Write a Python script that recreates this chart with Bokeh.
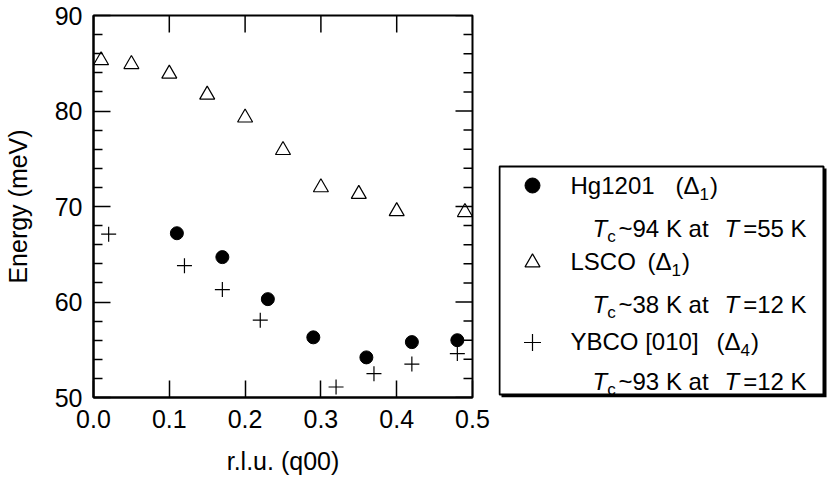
import math
from bokeh.plotting import figure
from bokeh.models import Range1d, LinearAxis, FixedTicker, ColumnDataSource
from bokeh.layouts import row
from bokeh.embed import file_html
from bokeh.resources import INLINE
from bokeh.core.properties import value

# ---------------- data ----------------
hg_q = [0.11, 0.17, 0.23, 0.29, 0.36, 0.42, 0.48]
hg_e = [67.2, 64.7, 60.3, 56.3, 54.2, 55.8, 56.0]

lsco_q = [0.01, 0.05, 0.10, 0.15, 0.20, 0.25, 0.30, 0.35, 0.40, 0.49]
lsco_e = [85.3, 84.9, 83.9, 81.7, 79.3, 75.9, 72.0, 71.3, 69.5, 69.4]

ybco_q = [0.02, 0.12, 0.17, 0.22, 0.32, 0.37, 0.42, 0.48]
ybco_e = [67.1, 63.8, 61.3, 58.1, 51.1, 52.5, 53.5, 54.6]

x_ticks = [0.0, 0.1, 0.2, 0.3, 0.4, 0.5]
x_tick_labels = ["0.0", "0.1", "0.2", "0.3", "0.4", "0.5"]
y_ticks = [50, 60, 70, 80, 90]
y_tick_labels = ["50", "60", "70", "80", "90"]
y_minor_ticks = [52, 54, 56, 58, 62, 64, 66, 68, 72, 74, 76, 78, 82, 84, 86, 88]

legend_names = ["Hg1201", "LSCO", "YBCO [010]"]
legend_deltas = ["1", "1", "4"]
legend_tc = ["~94 K at", "~38 K at", "~93 K at"]
legend_t = ["=55 K", "=12 K", "=12 K"]

FONT = "Liberation Sans"
H = 483
TOP, BOTTOM = 15, 86

# ---------------- main plot ----------------
p = figure(width=490, height=H, x_range=Range1d(0, 0.5), y_range=Range1d(50, 90),
           x_axis_type=None, y_axis_type=None,
           min_border_left=90, min_border_right=18, min_border_top=TOP, min_border_bottom=BOTTOM,
           output_backend="svg", toolbar_location=None)
p.outline_line_color = "black"
p.outline_line_width = 2
p.background_fill_color = "white"
p.border_fill_color = "white"

xt = FixedTicker(ticks=x_ticks, minor_ticks=[])
yt = FixedTicker(ticks=y_ticks, minor_ticks=y_minor_ticks)


def style_axis(ax):
    ax.axis_line_color = "black"
    ax.axis_line_width = 2
    ax.major_tick_in = 17
    ax.major_tick_out = 0
    ax.major_tick_line_width = 1.5
    ax.major_tick_line_color = "black"
    ax.minor_tick_in = 9
    ax.minor_tick_out = 0
    ax.minor_tick_line_width = 1.5
    ax.minor_tick_line_color = "black"
    ax.major_label_text_font = FONT
    ax.major_label_text_color = "black"
    ax.major_label_text_font_size = "25px"
    ax.axis_label_text_font = FONT
    ax.axis_label_text_font_size = "25px"
    ax.axis_label_text_font_style = "normal"
    ax.axis_label_text_color = "black"


xb = LinearAxis(ticker=xt, axis_label="r.l.u. (q00)",
                major_label_overrides=dict(zip(x_ticks, x_tick_labels)))
style_axis(xb)
xb.major_label_standoff = 12
xb.axis_label_standoff = 16
p.add_layout(xb, "below")

yl = LinearAxis(ticker=yt, axis_label="Energy (meV)",
                major_label_overrides=dict(zip(y_ticks, y_tick_labels)))
style_axis(yl)
yl.major_label_standoff = 11
yl.axis_label_standoff = 20
p.add_layout(yl, "left")

# inward ticks on the top and right frame edges
p.ray(x=x_ticks, y=[y_ticks[-1]] * len(x_ticks), length=17, length_units="screen",
      angle=-math.pi / 2, line_color="black", line_width=1.5)
p.ray(x=[x_ticks[-1]] * len(y_ticks), y=y_ticks, length=17, length_units="screen",
      angle=math.pi, line_color="black", line_width=1.5)
p.ray(x=[x_ticks[-1]] * len(y_minor_ticks), y=y_minor_ticks, length=9, length_units="screen",
      angle=math.pi, line_color="black", line_width=1.5)

p.scatter(lsco_q, lsco_e, marker="triangle", size=15, fill_color=None,
          line_color="black", line_width=1.2)
p.scatter(hg_q, hg_e, marker="circle", size=13, fill_color="black", line_color="black")
p.scatter(ybco_q, ybco_e, marker="cross", size=15, line_color="black", line_width=1.2)

# ---------------- legend panel ----------------
LEG_W = 338
LW, LH = LEG_W - 8, H - TOP - BOTTOM
BT = 150          # box top inside the panel frame
BR = 325          # box right inside the panel frame
lg = figure(width=LEG_W, height=H, x_range=Range1d(0, LW), y_range=Range1d(LH, 0),
            x_axis_type=None, y_axis_type=None,
            min_border_left=8, min_border_right=0, min_border_top=TOP, min_border_bottom=BOTTOM,
            output_backend="svg", toolbar_location=None)
lg.outline_line_color = None
lg.background_fill_color = "white"
lg.border_fill_color = "white"

# shadow + box
lg.quad(left=[3], right=[BR + 3], top=[BT + 3], bottom=[LH], fill_color="black", line_color=None)
lg.quad(left=[1], right=[BR], top=[BT + 1], bottom=[LH - 3], fill_color="white",
        line_color="black", line_width=2)

# markers
mx = 34
lg.scatter([mx], [BT + 20], marker="circle", size=15, fill_color="black", line_color="black")
lg.scatter([mx], [BT + 97], marker="triangle", size=15, fill_color=None, line_color="black",
           line_width=1.2)
lg.scatter([mx], [BT + 177], marker="cross", size=17, line_color="black", line_width=1.2)

# text layout (pixel offsets within the legend box, vertical = text middle)
name_x = 72
name_y = [20, 96, 176]
tline_y = [63, 139, 216]
paren_x = [177, 149, 218]
FS = 24
SFS = 17
W_PD = (0.333 + 0.668) * FS   # width of "(Δ"
W_SUB = 0.556 * SFS
W_T = 0.611 * FS
SUB_DY = 8

norm = dict(x=[], y=[], t=[])
ital = dict(x=[], y=[], t=[])
subs = dict(x=[], y=[], t=[])

for i in range(3):
    yb = BT + name_y[i]
    norm["x"] += [name_x, paren_x[i], paren_x[i] + W_PD + W_SUB + 1]
    norm["y"] += [yb, yb, yb]
    norm["t"] += [legend_names[i], "(\u0394", ")"]
    subs["x"].append(paren_x[i] + W_PD)
    subs["y"].append(yb + SUB_DY)
    subs["t"].append(legend_deltas[i])

    ty = BT + tline_y[i]
    ital["x"] += [94, 226]
    ital["y"] += [ty, ty]
    ital["t"] += ["T", "T"]
    subs["x"].append(94 + W_T)
    subs["y"].append(ty + SUB_DY)
    subs["t"].append("c")
    norm["x"] += [120, 226 + W_T + 4]
    norm["y"] += [ty, ty]
    norm["t"] += [legend_tc[i], legend_t[i]]

lg.text(x="x", y="y", text="t", source=ColumnDataSource(norm), text_font=value(FONT),
        text_font_size=value("24px"), text_baseline="middle", text_align="left",
        text_color="black")
lg.text(x="x", y="y", text="t", source=ColumnDataSource(ital), text_font=value(FONT),
        text_font_size=value("24px"), text_font_style="italic", text_baseline="middle",
        text_align="left", text_color="black")
lg.text(x="x", y="y", text="t", source=ColumnDataSource(subs), text_font=value(FONT),
        text_font_size=value("17px"), text_baseline="middle", text_align="left",
        text_color="black")

layout = row(p, lg, spacing=0)
open("out.html", "w").write(file_html(layout, INLINE))
